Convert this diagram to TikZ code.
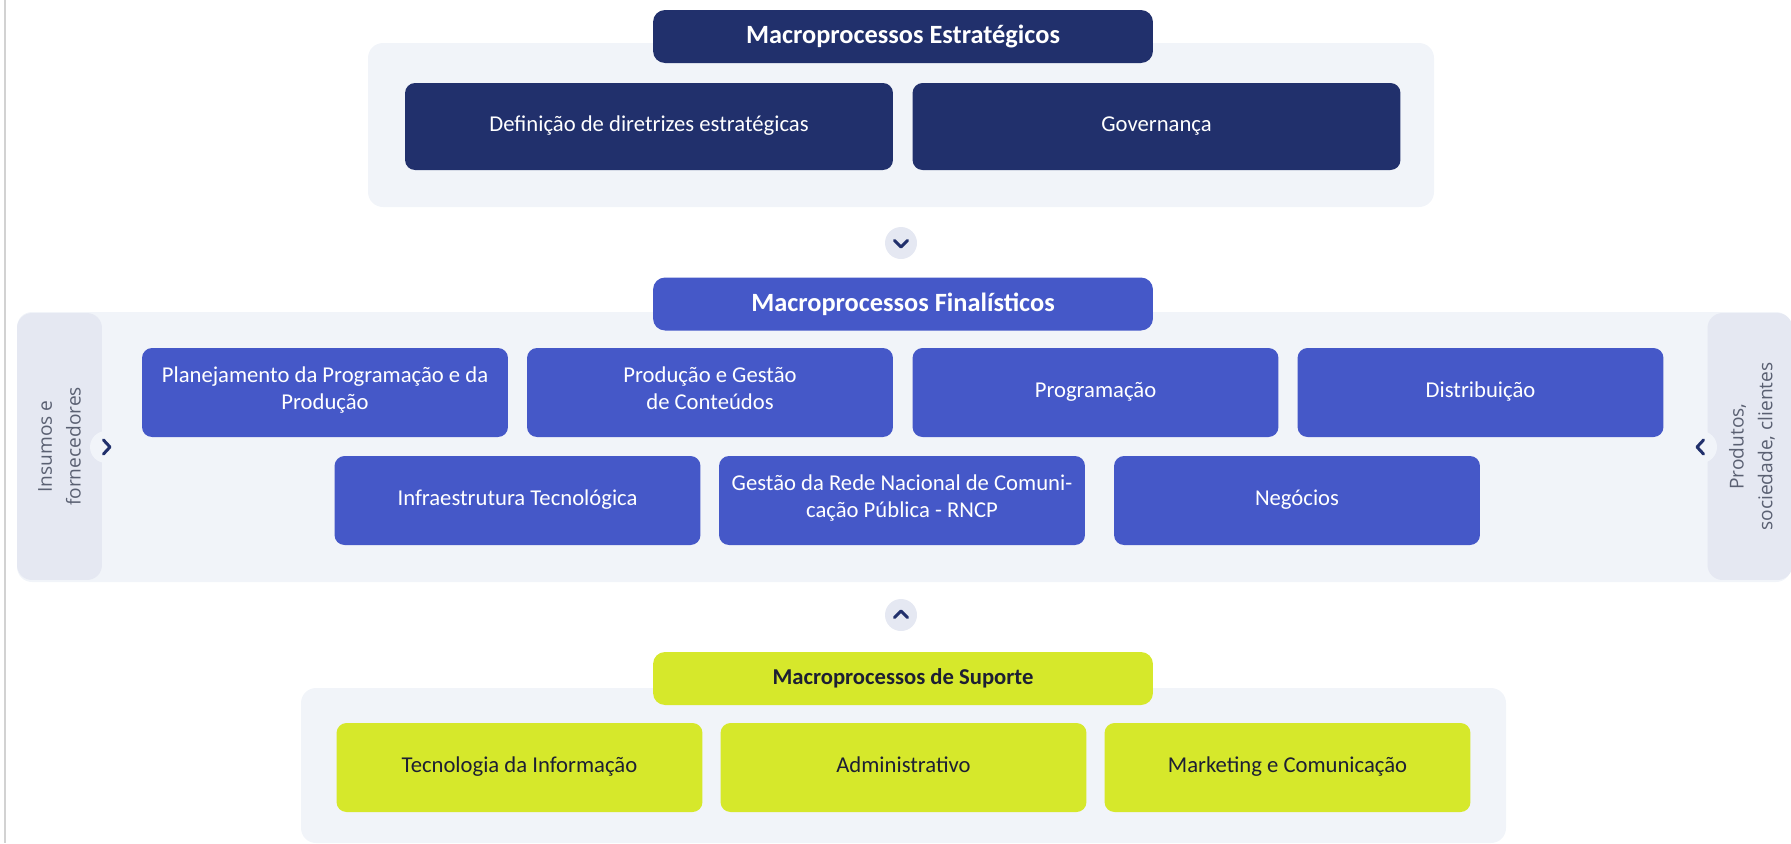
\documentclass[tikz,border=0pt]{standalone}
\usepackage{fontspec}
\setmainfont{Carlito}
\newfontfamily\sidefont{Open Sans}
\usetikzlibrary{positioning}
\pgfdeclarelayer{background}
\pgfdeclarelayer{foreground}
\pgfsetlayers{background,main,foreground}

\definecolor{navy}{HTML}{21306C}
\definecolor{midblue}{HTML}{4558C8}
\definecolor{lime}{HTML}{D6E82B}
\definecolor{panelgray}{HTML}{F1F4F9}
\definecolor{sidegray}{HTML}{E5E8F2}
\definecolor{sidetext}{HTML}{5A6072}
\definecolor{limetext}{HTML}{1D1F33}

\begin{document}
\begin{tikzpicture}[x=0.02cm, y=-0.02cm,
						procbox/.style={rounded corners=0.2cm, minimum width=7.32cm, minimum height=1.78cm, align=center, inner sep=2pt, font=\fontsize{12.9}{15.5}\selectfont, execute at begin node={\strut}},
						stratbox/.style={procbox, fill=navy, text=white, minimum width=9.76cm, minimum height=1.74cm},
						finbox/.style={procbox, fill=midblue, text=white},
						supbox/.style={procbox, fill=lime, text=limetext},
						titlebox/.style={rounded corners=0.24cm, minimum width=10cm, minimum height=1.06cm, inner sep=0pt, font=\fontsize{15}{18}\selectfont\bfseries},
						sidebox/.style={rounded corners=0.3cm, fill=sidegray, minimum width=1.7cm, minimum height=5.34cm},
						sidelabel/.style={rotate=90, align=center, text=sidetext, font=\sidefont\fontsize{10.9}{16.3}\selectfont},
						chevdot/.style={circle, fill=sidegray, minimum size=0.64cm, inner sep=0pt},
						chev/.style={navy, line width=1.7pt, line cap=round, line join=round},
						]
						\useasboundingbox (0,0) rectangle (1791,843);
						\draw[gray!35, line width=0.6pt] (5,0) -- (5,843);

						%Nodes
						\node[titlebox, fill=navy, text=white]		(strat) 	at 	(903,36.5)	{Macroprocessos Estratégicos};
						\node[stratbox]		(dir) 	at 	(649,126.5)	{Definição de diretrizes estratégicas};
						\node[stratbox]		(gov) 	at 	(1156.5,126.5)	{Governança};

						\node[chevdot]		(cdown) 	at 	(901,243)	{};

						\node[titlebox, fill=midblue, text=white]	(fin) 	at 	(903,304)	{Macroprocessos Finalísticos};
						\node[finbox]		(plan) 	at 	(325,392.5)	{Planejamento da Programação e da\\Produção};
						\node[finbox]		(prod) 	at 	(710,392.5)	{Produção e Gestão\\de Conteúdos};
						\node[finbox]		(prog) 	at 	(1095.5,392.5)	{Programação};
						\node[finbox]		(dist) 	at 	(1480.5,392.5)	{Distribuição};
						\node[finbox]		(infra) 	at 	(517.5,500.5)	{Infraestrutura Tecnológica};
						\node[finbox]		(rncp) 	at 	(902,500.5)	{Gestão da Rede Nacional de Comuni-\\cação Pública - RNCP};
						\node[finbox]		(neg) 	at 	(1297,500.5)	{Negócios};

						\node[sidebox]		(ins) 	at 	(59.5,446.5)	{};
						\node[sidelabel]		(insl) 	at 	(ins.center)	{Insumos e\\fornecedores};
						\node[sidebox]		(cli) 	at 	(1750,446.5)	{};
						\node[sidelabel]		(clil) 	at 	(1752,446.5)	{Produtos,\\sociedade, clientes};
						\node[chevdot, fill=panelgray]	(cin) 	at 	(106,447)	{};
						\node[chevdot, fill=panelgray]	(cout) 	at 	(1701,447)	{};

						\node[chevdot]		(cup) 	at 	(901,615)	{};

						\node[titlebox, fill=lime, text=limetext, font=\fontsize{12.9}{15}\selectfont\bfseries]	(sup) 	at 	(903,678.5)	{Macroprocessos de Suporte};
						\node[supbox]		(ti) 	at 	(519.5,767.5)	{Tecnologia da Informação};
						\node[supbox]		(adm) 	at 	(903.5,767.5)	{Administrativo};
						\node[supbox]		(mkt) 	at 	(1287.5,767.5)	{Marketing e Comunicação};

						\begin{pgfonlayer}{background}
						%Panels
						\fill[panelgray, rounded corners=0.3cm] (368,43) rectangle (1434,207);
						\fill[panelgray, rounded corners=0.3cm] (17,312) rectangle (1791,582);
						\fill[panelgray, rounded corners=0.3cm] (301,688) rectangle (1506,843);
						\end{pgfonlayer}

						%Chevrons
						\draw[chev] ([xshift=-0.13cm,yshift=0.05cm]cdown.center) -- ([yshift=-0.08cm]cdown.center) -- ([xshift=0.13cm,yshift=0.05cm]cdown.center);
						\draw[chev] ([xshift=-0.13cm,yshift=-0.05cm]cup.center) -- ([yshift=0.08cm]cup.center) -- ([xshift=0.13cm,yshift=-0.05cm]cup.center);
						\draw[chev] ([xshift=-0.05cm,yshift=0.14cm]cin.center) -- ([xshift=0.08cm]cin.center) -- ([xshift=-0.05cm,yshift=-0.14cm]cin.center);
						\draw[chev] ([xshift=0.05cm,yshift=0.14cm]cout.center) -- ([xshift=-0.08cm]cout.center) -- ([xshift=0.05cm,yshift=-0.14cm]cout.center);
					\end{tikzpicture}
\end{document}
